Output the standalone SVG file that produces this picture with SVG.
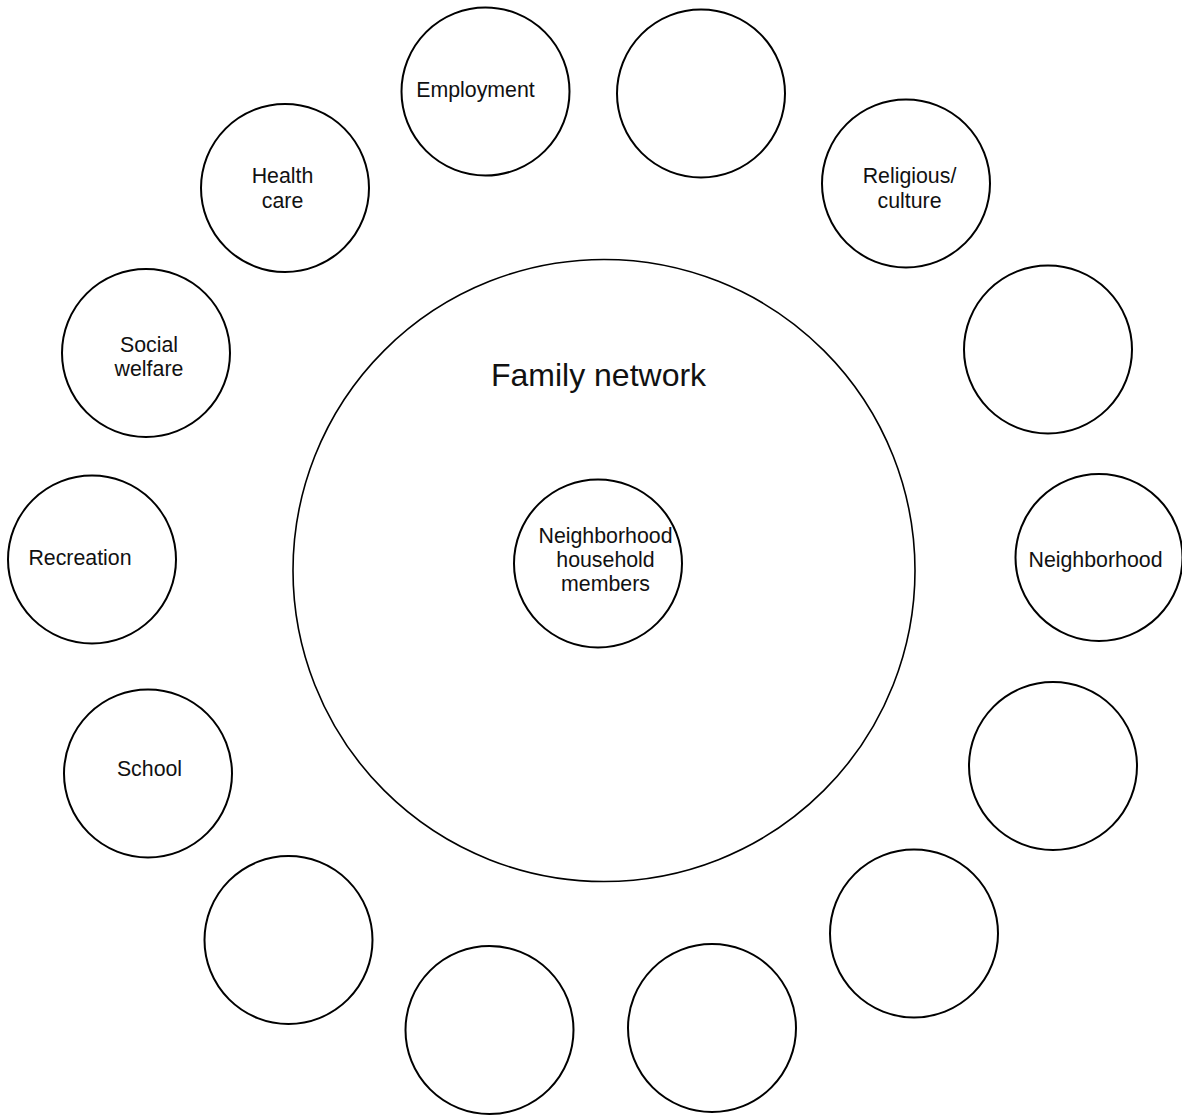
<svg xmlns="http://www.w3.org/2000/svg" width="1182" height="1116" viewBox="0 0 1182 1116">
<style>
circle{fill:#fff;stroke:#000;stroke-width:2}
circle.outer{stroke-width:1.6}
text{font-family:"Liberation Sans",Arial,sans-serif;font-size:21.33px;fill:#111;text-anchor:middle}
.big{font-size:32px}
</style>
<rect width="1182" height="1116" fill="#fff"/>
<g id="connectors"></g>
<g id="family-network"><circle class="outer" cx="604" cy="570.5" r="311"/><text class="big" x="598.5" y="386">Family network</text></g>
<g id="household"><circle cx="598" cy="563.5" r="84"/><text x="605.5" y="542.5">Neighborhood</text><text x="605.5" y="567">household</text><text x="605.5" y="591">members</text></g>
<g id="employment"><circle cx="485.5" cy="91.5" r="84"/><text x="475.5" y="97">Employment</text></g>
<g id="empty-1"><circle cx="701" cy="93.5" r="84"/></g>
<g id="religious"><circle cx="906" cy="183.5" r="84"/><text x="909.5" y="182.5">Religious/</text><text x="909.5" y="207.5">culture</text></g>
<g id="empty-2"><circle cx="1048" cy="349.5" r="84"/></g>
<g id="neighborhood"><circle cx="1099" cy="557.5" r="83.5"/><text x="1095.5" y="566.5">Neighborhood</text></g>
<g id="empty-3"><circle cx="1053" cy="766" r="84"/></g>
<g id="empty-4"><circle cx="914" cy="933.5" r="84"/></g>
<g id="empty-5"><circle cx="712" cy="1028" r="84"/></g>
<g id="empty-6"><circle cx="489.5" cy="1030" r="84"/></g>
<g id="empty-7"><circle cx="288.5" cy="940" r="84"/></g>
<g id="school"><circle cx="148" cy="773.5" r="84"/><text x="149.5" y="775.5">School</text></g>
<g id="recreation"><circle cx="92" cy="559.5" r="84"/><text x="80" y="565">Recreation</text></g>
<g id="social-welfare"><circle cx="146" cy="353" r="84"/><text x="149" y="351.5">Social</text><text x="149" y="376">welfare</text></g>
<g id="health-care"><circle cx="285" cy="188" r="84"/><text x="282.5" y="183">Health</text><text x="282.5" y="208">care</text></g>
</svg>
